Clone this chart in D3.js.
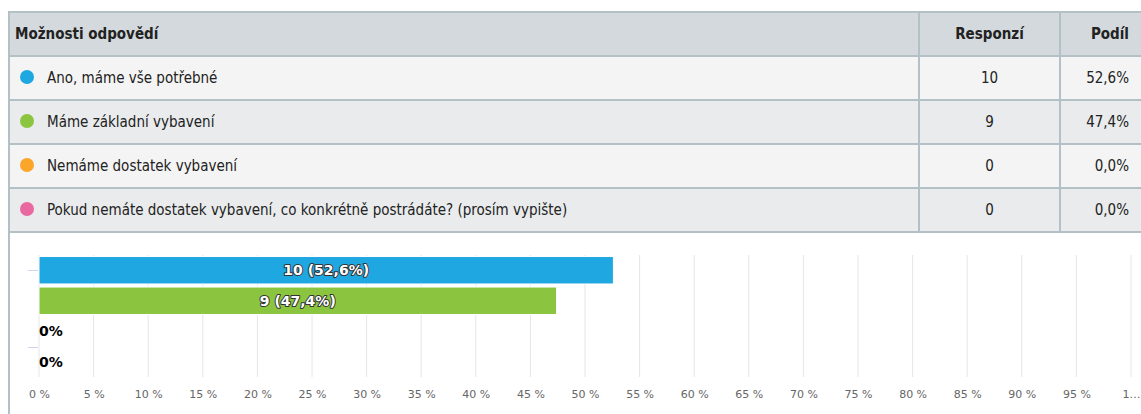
<!DOCTYPE html>
<html>
<head>
<meta charset="utf-8">
<script src="https://cdn.jsdelivr.net/npm/d3@7"></script>
<style>
  body { margin: 0; background: #fff; }
  svg { display: block; }
</style>
</head>
<body>
<script>
(function(d3) {

  var categories = [
    "Ano, máme vše potřebné",
    "Máme základní vybavení",
    "Nemáme dostatek vybavení",
    "Pokud nemáte dostatek vybavení, co konkrétně postrádáte? (prosím vypište)"
  ];
  var responses = [10, 9, 0, 0];
  var shares = [52.6, 47.4, 0, 0];
  var colors = ['#1ea7e0', '#8bc53f', '#fba629', '#e8689f'];
  var headers = ["Možnosti odpovědí", "Responzí", "Podíl"];
  var xTickValues = d3.range(0, 101, 5);

  var width = 1141, height = 414;
  var tableFont = '"Liberation Sans Narrow", "DejaVu Sans Condensed", sans-serif';
  var chartFont = '"DejaVu Sans", Verdana, sans-serif';
  var comma = function(v) { return d3.format('.1f')(v).replace('.', ','); };

  var svg = d3.select("body").append("svg")
    .attr("width", width)
    .attr("height", height);

  // ---- table ----
  var tableTop = 12, rowH = 44,
    colX = [9, 919, 1060, 1150];

  var rows = [{ header: true }].concat(categories.map(function(c, i) {
    return { label: c, n: responses[i], share: shares[i], color: colors[i], i: i };
  }));

  var tr = svg.selectAll("g.row").data(rows).enter().append("g")
    .attr("class", "row")
    .attr("transform", function(d, i) { return "translate(0," + (tableTop + i * rowH) + ")"; });

  tr.append("rect")
    .attr("x", colX[0]).attr("width", colX[3] - colX[0])
    .attr("height", rowH)
    .attr("fill", function(d) {
      if (d.header) return '#d3d9dc';
      return d.i % 2 === 0 ? '#f4f4f4' : '#e9ebec';
    });

  tr.append("line")
    .attr("x1", colX[0]).attr("x2", colX[3])
    .attr("y1", 0).attr("y2", 0)
    .attr("stroke", '#b3c0c6').attr("stroke-width", 2);

  [1, 2].forEach(function(c) {
    tr.append("line")
      .attr("x1", colX[c]).attr("x2", colX[c])
      .attr("y1", 0).attr("y2", rowH)
      .attr("stroke", '#b3c0c6').attr("stroke-width", 2);
  });

  var textAttrs = function(sel) {
    return sel.attr("y", rowH / 2)
      .attr("dy", "0.35em")
      .attr("font-family", tableFont)
      .attr("font-size", 15)
      .attr("fill", '#222');
  };

  var head = tr.filter(function(d) { return d.header; });
  textAttrs(head.append("text")).attr("x", 15).attr("font-weight", "bold").text(headers[0]);
  textAttrs(head.append("text")).attr("x", (colX[1] + colX[2]) / 2).attr("text-anchor", "middle")
    .attr("font-weight", "bold").text(headers[1]);
  textAttrs(head.append("text")).attr("x", 1129).attr("text-anchor", "end")
    .attr("font-weight", "bold").text(headers[2]);

  var body = tr.filter(function(d) { return !d.header; });
  body.append("circle")
    .attr("cx", 27).attr("cy", rowH / 2 - 1).attr("r", 7)
    .attr("fill", function(d) { return d.color; });
  textAttrs(body.append("text")).attr("x", 47).text(function(d) { return d.label; });
  textAttrs(body.append("text")).attr("x", (colX[1] + colX[2]) / 2).attr("text-anchor", "middle")
    .text(function(d) { return d.n; });
  textAttrs(body.append("text")).attr("x", 1129).attr("text-anchor", "end")
    .text(function(d) { return comma(d.share) + "%"; });

  var tableBottom = tableTop + rows.length * rowH;
  svg.append("line")
    .attr("x1", colX[0]).attr("x2", colX[3])
    .attr("y1", tableBottom).attr("y2", tableBottom)
    .attr("stroke", '#b3c0c6').attr("stroke-width", 2);

  // outer left border runs down past the chart
  svg.append("line")
    .attr("x1", colX[0]).attr("x2", colX[0])
    .attr("y1", tableTop - 1).attr("y2", height)
    .attr("stroke", '#b3c0c6').attr("stroke-width", 2);

  // ---- bar chart ----
  var plot = { left: 39, right: 1131, top: 255, bottom: 377 };

  var x = d3.scaleLinear().domain([0, 100]).range([plot.left, plot.right]);
  var y = d3.scaleBand().domain(d3.range(categories.length))
    .range([plot.top, plot.bottom]).paddingInner(0.1).paddingOuter(0.05);

  var g = svg.append("g");

  g.selectAll("line.grid").data(xTickValues).enter().append("line")
    .attr("class", "grid")
    .attr("x1", function(d) { return x(d); }).attr("x2", function(d) { return x(d); })
    .attr("y1", plot.top).attr("y2", plot.bottom)
    .attr("stroke", '#e6e6e6').attr("stroke-width", 1);

  // small category ticks on the left
  [0, 3].forEach(function(k) {
    var yy = k === 0 ? y(0) + y.bandwidth() / 2 : y(3) - (y.step() - y.bandwidth()) / 2;
    g.append("line")
      .attr("x1", plot.left - 11).attr("x2", plot.left - 1)
      .attr("y1", Math.round(yy) + 0.5).attr("y2", Math.round(yy) + 0.5)
      .attr("stroke", '#ccd6eb');
  });

  var xAxis = d3.axisBottom(x)
    .tickValues(xTickValues)
    .tickSize(0)
    .tickFormat(function(d) { return d === 100 ? "1…" : d + " %"; });

  var ax = g.append("g")
    .attr("transform", "translate(0," + plot.bottom + ")")
    .call(xAxis);
  ax.select(".domain").remove();
  ax.selectAll("text")
    .attr("y", 13)
    .attr("font-family", chartFont)
    .attr("font-size", 11)
    .attr("fill", '#666');

  var bars = g.selectAll("g.bar").data(shares).enter().append("g").attr("class", "bar");

  bars.append("rect")
    .attr("x", x(0))
    .attr("y", function(d, i) { return y(i); })
    .attr("width", function(d) { return x(d) - x(0); })
    .attr("height", y.bandwidth())
    .attr("fill", function(d, i) { return colors[i]; })
    .attr("stroke", '#fff').attr("stroke-width", 1);

  bars.append("text")
    .attr("x", function(d) { return d > 0 ? (x(0) + x(d)) / 2 : x(0); })
    .attr("y", function(d, i) { return y(i) + y.bandwidth() / 2; })
    .attr("dy", "0.35em")
    .attr("text-anchor", function(d) { return d > 0 ? "middle" : "start"; })
    .attr("font-family", chartFont)
    .attr("font-size", 14)
    .attr("font-weight", "bold")
    .attr("fill", function(d) { return d > 0 ? '#fff' : '#000'; })
    .attr("stroke", function(d) { return d > 0 ? '#333' : 'none'; })
    .attr("stroke-width", 2)
    .attr("stroke-linejoin", "round")
    .attr("paint-order", "stroke")
    .text(function(d, i) { return d > 0 ? responses[i] + " (" + comma(d) + "%)" : "0%"; });

})(d3);
</script>
</body>
</html>
